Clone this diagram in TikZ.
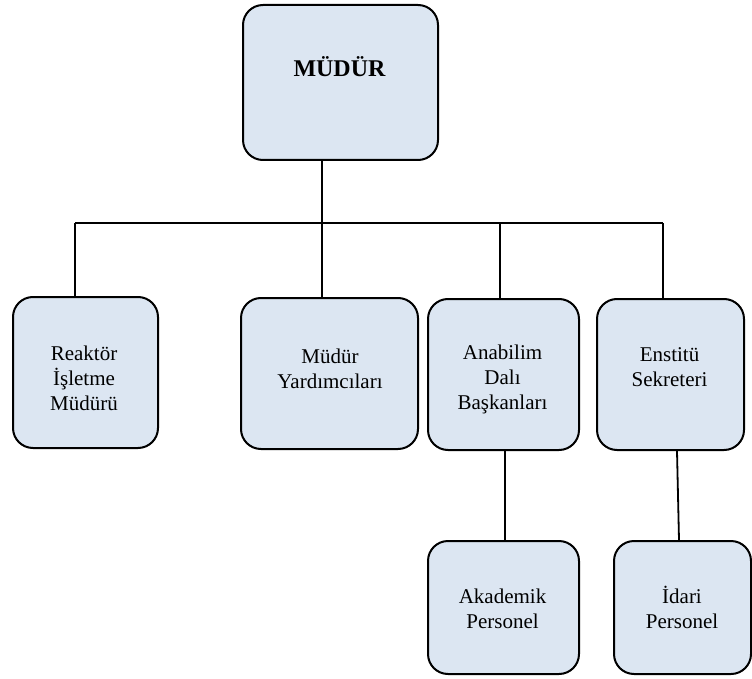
\documentclass[tikz,border=0pt]{standalone}
\usepackage{fontspec}
\setmainfont{Liberation Serif}
\definecolor{boxfill}{HTML}{DCE6F2}
\begin{document}
\begin{tikzpicture}[x=1pt,y=-1pt,
  orgbox/.style={draw=black, line width=2pt, fill=boxfill, rounded corners=20pt,
    rectangle, inner sep=0pt, anchor=north west},
  txt/.style={align=center, inner sep=0pt, font=\fontsize{21}{25}\selectfont},
  conn/.style={draw=black, line width=1.8pt}]
\useasboundingbox (0,0) rectangle (752,679);

% boxes
\node[orgbox, minimum width=195pt, minimum height=155pt] (top) at (242,4) {};
\node[orgbox, minimum width=145pt, minimum height=151pt] (R) at (12,296) {};
\node[orgbox, minimum width=177pt, minimum height=151pt] (M) at (240,297) {};
\node[orgbox, minimum width=151pt, minimum height=151pt] (A) at (427,298) {};
\node[orgbox, minimum width=147pt, minimum height=151pt] (E) at (596,298) {};
\node[orgbox, minimum width=151pt, minimum height=133pt] (Ak) at (427,540) {};
\node[orgbox, minimum width=137pt, minimum height=133pt] (I) at (613,540) {};

% texts
\node[inner sep=0pt, anchor=base, font=\fontsize{24}{28}\selectfont\bfseries] (ttop) at (339.5,77) {MÜDÜR};
\node[txt] (tR) at (84,378) {Reaktör\\İşletme\\Müdürü};
\node[txt] (tM) at (330,369) {Müdür\\Yardımcıları};
\node[txt] (tA) at (502.5,379) {Anabilim\\Dalı\\Başkanları};
\node[txt] (tE) at (669.5,367) {Enstitü\\Sekreteri};
\node[txt] (tAk) at (502.5,609) {Akademik\\Personel};
\node[txt] (tI) at (682,607) {İdari\\Personel};

% connectors
\coordinate (jR) at (75,223);
\coordinate (jM) at (322,223);
\coordinate (jA) at (500,223);
\coordinate (jE) at (663,223);
\draw[conn] (top.south -| jM) -- (jM);
\draw[conn] (jR) -- (jE);
\draw[conn] (jR) -- (jR |- R.north);
\draw[conn] (jM) -- (jM |- M.north);
\draw[conn] (jA) -- (jA |- A.north);
\draw[conn] (jE) -- ([yshift=-2pt]jE |- E.north);
\draw[conn] ([xshift=1.5pt]A.south) -- ([xshift=1.5pt]A.south |- Ak.north);
\draw[conn] ([xshift=6.5pt]E.south) -- ([xshift=-3.5pt]I.north);
\end{tikzpicture}
\end{document}
